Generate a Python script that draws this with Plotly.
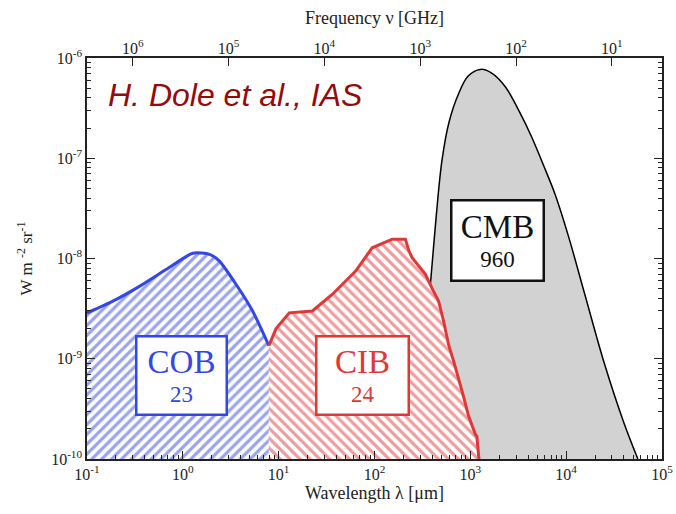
import numpy as np
import plotly.graph_objects as go

# ---- data ----
cob_wl = [0.1, 0.186, 0.356, 0.675, 1.27, 1.9, 2.41, 3.6, 5.36, 7.9]
cob_val = [2.86e-9, 3.75e-9, 5.3e-9, 7.8e-9, 1.13e-8, 1.1e-8, 9.4e-9, 5.5e-9, 2.98e-9, 1.35e-9]

cib_wl = [7.9, 9.4, 12.9, 22.5, 36.4, 63.6, 94.7, 153, 210, 228, 247, 290, 340, 400, 467,
          530, 593, 680, 754, 850, 957, 1060, 1100, 1130, 1169, 1200, 1230]
cib_val = [1.35e-9, 2.0e-9, 2.87e-9, 3.0e-9, 4.4e-9, 7.5e-9, 1.28e-8, 1.56e-8, 1.56e-8, 1.2e-8,
           1.02e-8, 8.5e-9, 6.95e-9, 5.0e-9, 3.75e-9, 2.3e-9, 1.38e-9, 9.0e-10, 6.4e-10, 4.2e-10,
           2.7e-10, 2.1e-10, 1.9e-10, 1.75e-10, 1.7e-10, 1.3e-10, 1.0e-10]

cmb_wl = [270, 300, 340, 383, 440, 506, 600, 754, 950, 1268, 1700, 2306, 3200, 4365, 5800,
          7640, 10500, 15640, 25000, 40000, 56000]
cmb_val = [1.0e-10, 3.0e-10, 1.6e-9, 5.5e-9, 2.6e-8, 9.5e-8, 2.3e-7, 4.4e-7, 6.6e-7, 7.7e-7,
           7.0e-7, 5.2e-7, 3.0e-7, 1.63e-7, 8.5e-8, 4.4e-8, 1.7e-8, 4.4e-9, 9.0e-10, 2.3e-10, 1.0e-10]

x_ticks = [0.1, 1, 10, 100, 1000, 10000, 100000]
x_ticktext = ["10<sup>-1</sup>", "10<sup>0</sup>", "10<sup>1</sup>", "10<sup>2</sup>",
              "10<sup>3</sup>", "10<sup>4</sup>", "10<sup>5</sup>"]
y_ticks = [1e-10, 1e-9, 1e-8, 1e-7, 1e-6]
y_ticktext = ["10<sup>-10</sup>", "10<sup>-9</sup>", "10<sup>-8</sup>", "10<sup>-7</sup>", "10<sup>-6</sup>"]
freq_ghz = [1e6, 1e5, 1e4, 1e3, 1e2, 1e1]
freq_text = ["10<sup>6</sup>", "10<sup>5</sup>", "10<sup>4</sup>", "10<sup>3</sup>",
             "10<sup>2</sup>", "10<sup>1</sup>"]

FLOOR = 1e-12
SERIF = "Liberation Serif"
BLUE = "rgb(50,70,235)"
RED = "rgb(225,55,55)"
INK = "#222"

def closed(xs, ys):
    return list(xs) + [xs[-1], xs[0]], list(ys) + [FLOOR, FLOOR]

def minor_vals(lo, hi):
    return [m * 10.0 ** e for e in range(lo, hi) for m in range(2, 10)]

fig = go.Figure()

# CMB
cx, cy = closed(cmb_wl, cmb_val)
fig.add_trace(go.Scatter(x=cx, y=cy, mode="none", fill="toself",
                         fillcolor="rgb(210,210,210)", hoverinfo="skip", showlegend=False))
fig.add_trace(go.Scatter(x=cmb_wl, y=cmb_val, mode="lines", line=dict(color="black", width=1.5, shape="spline"),
                         hoverinfo="skip", showlegend=False))

# COB
bx, by = closed(cob_wl, cob_val)
fig.add_trace(go.Scatter(x=bx, y=by, mode="none", fill="toself", fillcolor="white",
                         fillpattern=dict(shape="/", fgcolor=BLUE, bgcolor="white", size=7, solidity=0.45),
                         hoverinfo="skip", showlegend=False))
fig.add_trace(go.Scatter(x=cob_wl, y=cob_val, mode="lines", line=dict(color=BLUE, width=3, shape="spline", smoothing=0.6),
                         hoverinfo="skip", showlegend=False))

# CIB
rx, ry = closed(cib_wl, cib_val)
fig.add_trace(go.Scatter(x=rx, y=ry, mode="none", fill="toself", fillcolor="white",
                         fillpattern=dict(shape="\\", fgcolor=RED, bgcolor="white", size=7, solidity=0.45),
                         hoverinfo="skip", showlegend=False))
fig.add_trace(go.Scatter(x=cib_wl + [cib_wl[-1]], y=cib_val + [FLOOR], mode="lines",
                         line=dict(color=RED, width=3),
                         hoverinfo="skip", showlegend=False))

# top axis dummy trace
fig.add_trace(go.Scatter(x=[0.1, 1e5], y=[1e-10, 1e-10], xaxis="x2", mode="none",
                         hoverinfo="skip", showlegend=False))

lam_for_freq = [3e5 / f for f in freq_ghz]

fig.update_layout(
    width=676, height=514,
    margin=dict(l=87, r=14, t=58, b=55),
    plot_bgcolor="white", paper_bgcolor="white",
    font=dict(family=SERIF, color=INK, size=16),
    xaxis=dict(type="log", range=[-1, 5], tickvals=x_ticks, ticktext=x_ticktext, automargin=False,
               ticks="inside", ticklen=8, tickcolor=INK, tickwidth=1.2,
               minor=dict(ticks="inside", ticklen=4, tickcolor=INK, tickwidth=1, showgrid=False,
                          tickvals=minor_vals(-1, 5)),
               showline=True, linecolor=INK, linewidth=1.5, mirror=True,
               showgrid=False, zeroline=False,
               title=dict(text="Wavelength λ [μm]", font=dict(size=18, family=SERIF), standoff=4),
               tickfont=dict(size=16, family=SERIF)),
    xaxis2=dict(type="log", range=[-1, 5], overlaying="x", side="top", anchor="y", automargin=False,
                tickvals=lam_for_freq, ticktext=freq_text, ticks="inside", ticklen=8,
                tickcolor=INK, tickwidth=1.2, showgrid=False, zeroline=False, showline=False,
                title=dict(text="Frequency ν [GHz]", font=dict(size=18, family=SERIF), standoff=7),
                tickfont=dict(size=16, family=SERIF)),
    yaxis=dict(type="log", range=[-10, -6], tickvals=y_ticks, ticktext=y_ticktext, automargin=False,
               ticks="inside", ticklen=8, tickcolor=INK, tickwidth=1.2,
               minor=dict(ticks="inside", ticklen=4, tickcolor=INK, tickwidth=1, showgrid=False,
                          tickvals=minor_vals(-10, -6)),
               showline=True, linecolor=INK, linewidth=1.5, mirror="ticks",
               showgrid=False, zeroline=False,
               title=dict(text="W m <sup>-2</sup> sr<sup>-1</sup>", font=dict(size=17, family=SERIF), standoff=14),
               tickfont=dict(size=16, family=SERIF)),
)

def box(xv, yv, name, num, color, w, h, s1, s2):
    fig.add_annotation(x=np.log10(xv), y=np.log10(yv), xref="x", yref="y", showarrow=False,
                       text=f"<span style='font-size:{s1}px'>{name}</span><br>{num}",
                       font=dict(family=SERIF, size=s2, color=color),
                       bgcolor="white", bordercolor=color, borderwidth=2.5, borderpad=2,
                       width=w, height=h, align="center", valign="middle")

box(0.96, 6.8e-10, "COB", "23", BLUE, 84, 72, 33, 23)
box(75.7, 6.8e-10, "CIB", "24", RED, 86, 72, 33, 23)
box(1920, 1.5e-8, "CMB", "960", "#111", 86, 74, 33, 23)

fig.add_annotation(xref="x domain", yref="y domain", x=(106 - 87) / 575, y=1 - (95 - 58) / 401,
                   text="<i>H. Dole et al., IAS</i>", showarrow=False,
                   font=dict(family="Liberation Sans", size=32, color="rgb(150,10,10)"),
                   xanchor="left", yanchor="middle")

fig.write_html("out.html")
